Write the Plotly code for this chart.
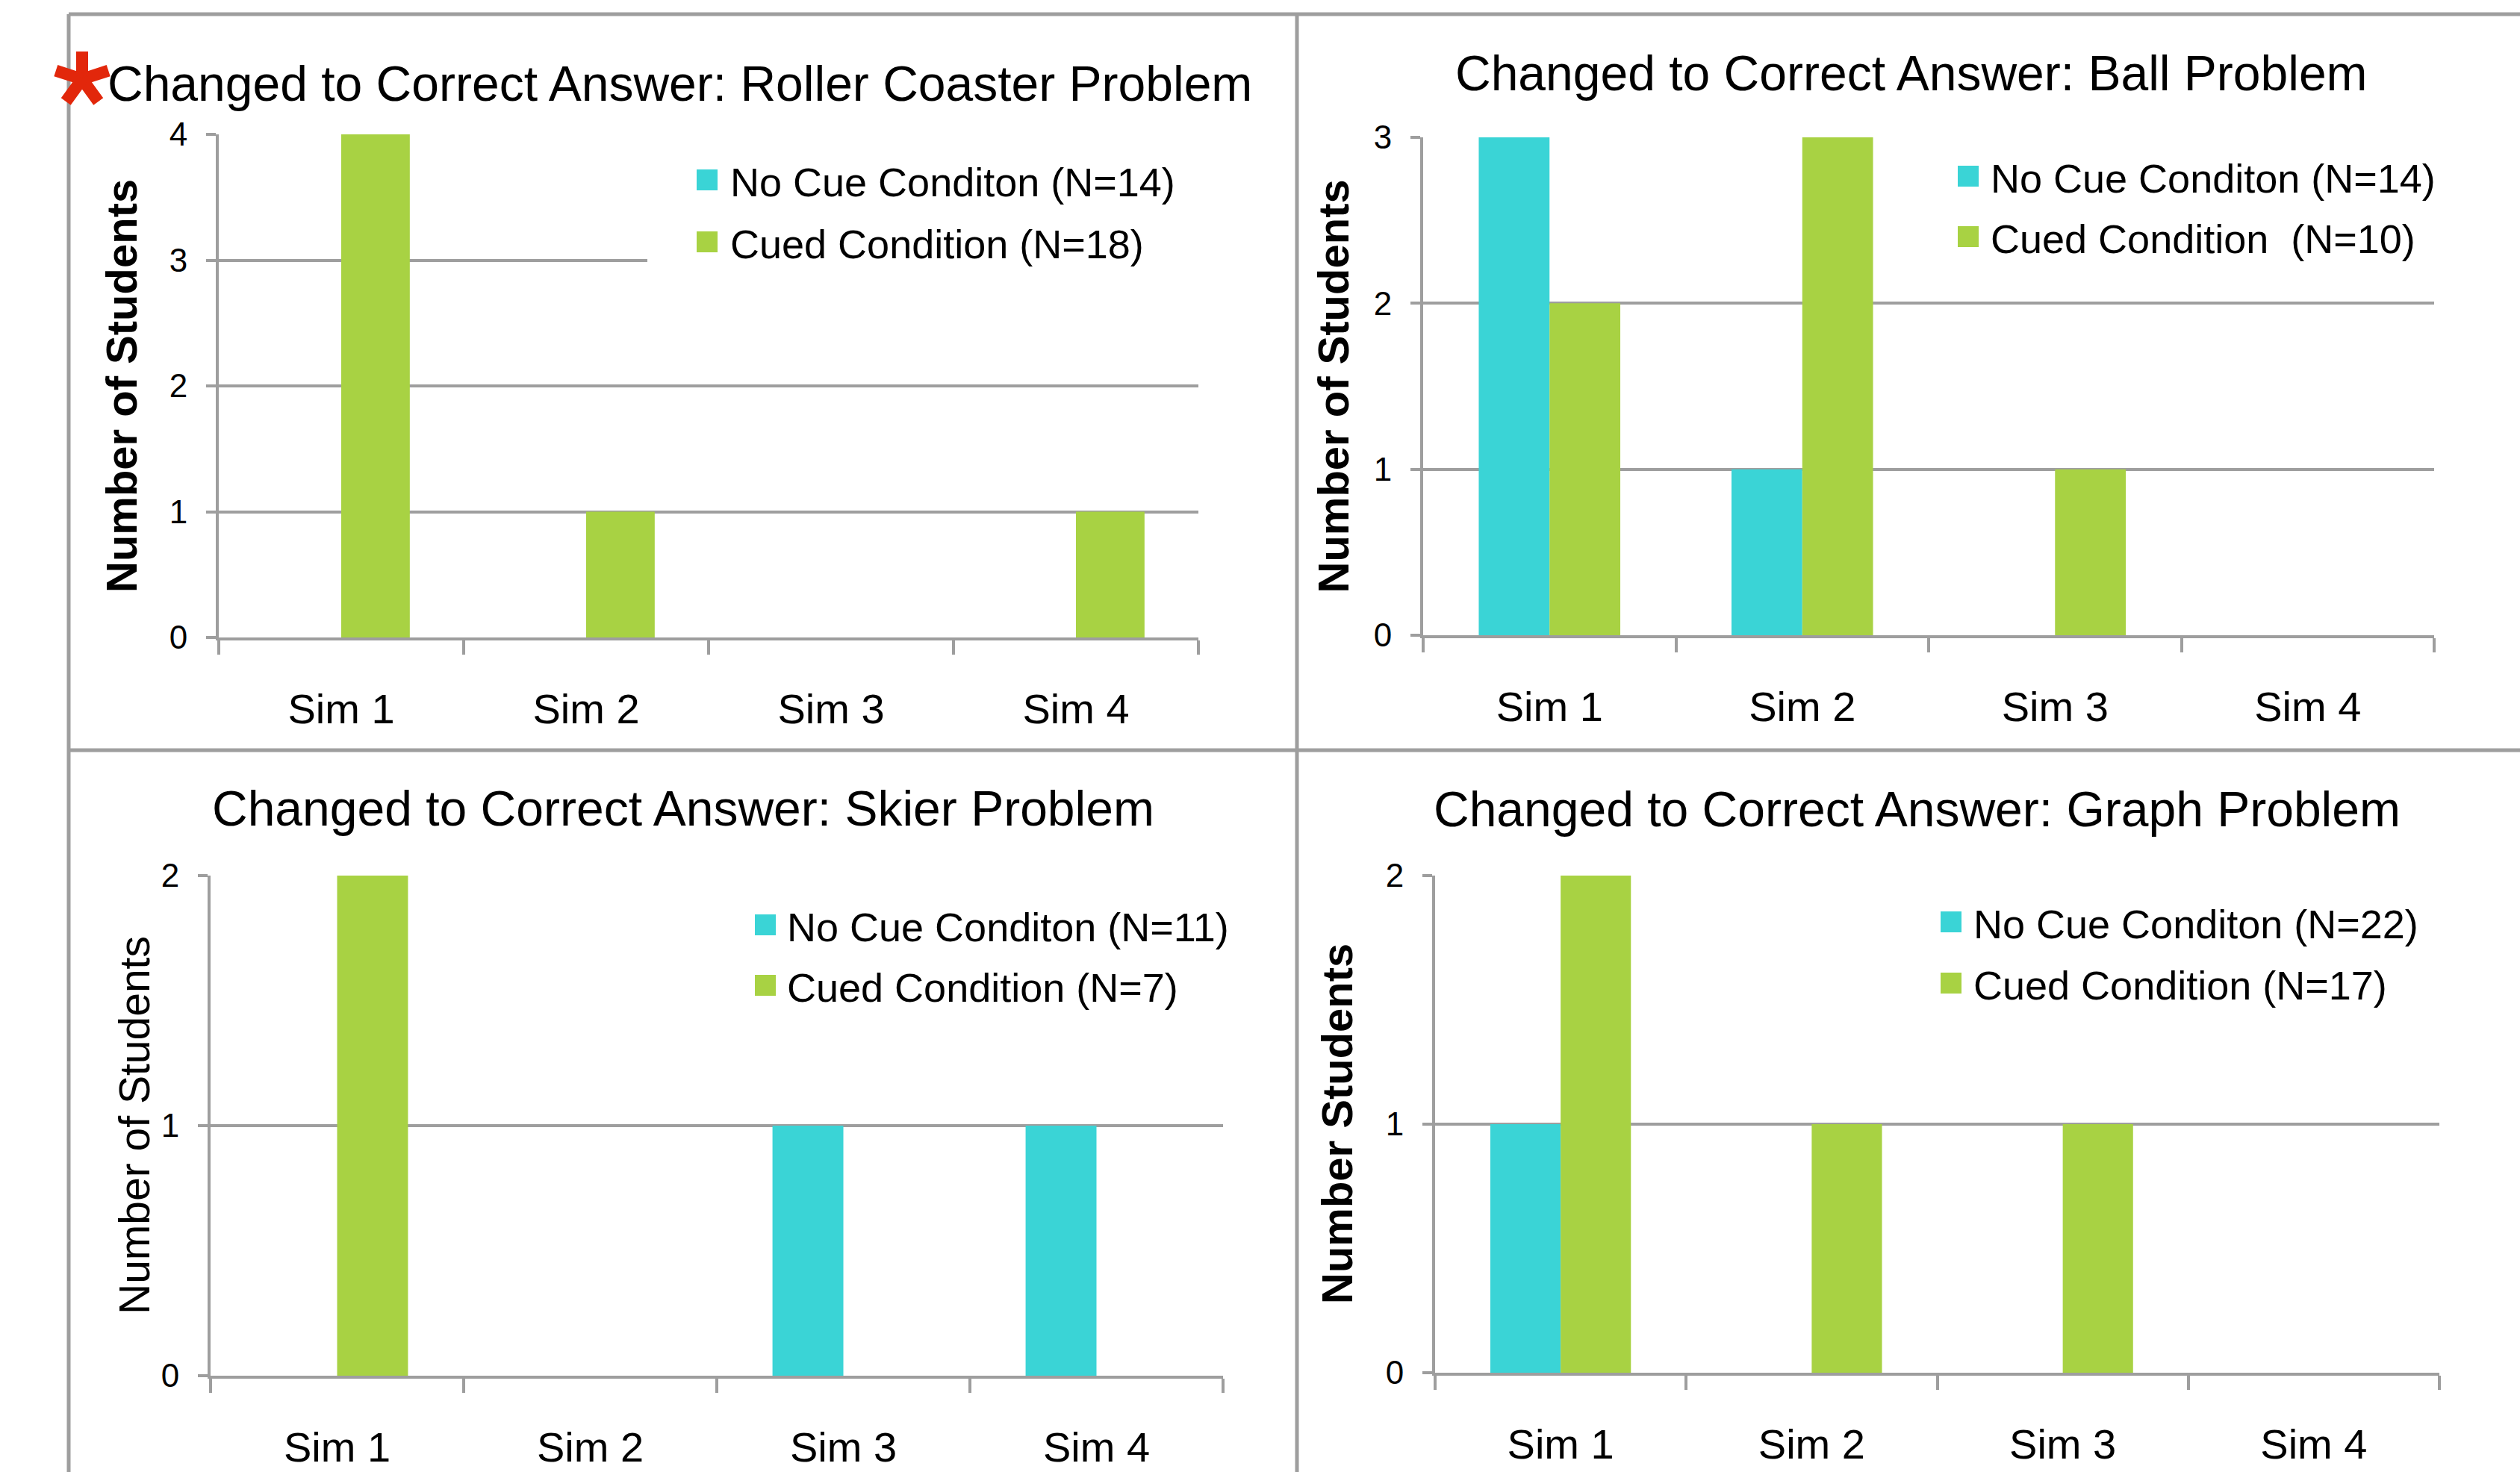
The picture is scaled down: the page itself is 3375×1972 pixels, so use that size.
import math
import plotly.graph_objects as go

# Canvas size in pixels
W, H = 3375, 1972

# ---- data -----------------------------------------------------------------
categories = ["Sim 1", "Sim 2", "Sim 3", "Sim 4"]

roller_no_cue = [0, 0, 0, 0]
roller_cued = [4, 1, 0, 1]

ball_no_cue = [3, 1, 0, 0]
ball_cued = [2, 3, 1, 0]

skier_no_cue = [0, 0, 1, 1]
skier_cued = [2, 0, 0, 0]

graph_no_cue = [1, 0, 0, 0]
graph_cued = [2, 1, 1, 0]

panel_titles = [
    "Changed to Correct Answer: Roller Coaster Problem",
    "Changed to Correct Answer: Ball Problem",
    "Changed to Correct Answer: Skier Problem",
    "Changed to Correct Answer: Graph Problem",
]
legend_labels = [
    ["No Cue Conditon (N=14)", "Cued Condition (N=18)"],
    ["No Cue Conditon (N=14)", "Cued Condition\u00a0 (N=10)"],
    ["No Cue Conditon (N=11)", "Cued Condition (N=7)"],
    ["No Cue Conditon (N=22)", "Cued Condition (N=17)"],
]
y_titles = ["Number of Students", "Number of Students",
            "Number of Students", "Number Students"]
y_maxima = [4, 3, 2, 2]

series = [
    (roller_no_cue, roller_cued),
    (ball_no_cue, ball_cued),
    (skier_no_cue, skier_cued),
    (graph_no_cue, graph_cued),
]

# ---- styling --------------------------------------------------------------
CYAN = "#3AD4D6"
GREEN = "#A8D243"
GRID = "#9E9E9E"
FONT = "Liberation Sans, Arial, Helvetica, sans-serif"

# Panel geometry in pixels
panels = [
    dict(x0=293, x1=1605, ytop=180, ybot=854,
         title=(911, 112), ytitle=(162, True),
         sq_x=933, text_x=976, rows=(241, 324)),
    dict(x0=1906, x1=3260, ytop=184, ybot=851,
         title=(2560, 98), ytitle=(1785, True),
         sq_x=2622, text_x=2664, rows=(236, 317)),
    dict(x0=282, x1=1638, ytop=1173, ybot=1843,
         title=(915, 1083), ytitle=(180, False),
         sq_x=1011, text_x=1052, rows=(1239, 1320)),
    dict(x0=1922, x1=3267, ytop=1173, ybot=1839,
         title=(2567, 1084), ytitle=(1790, True),
         sq_x=2599, text_x=2641, rows=(1235, 1317)),
]


def px(x):
    return x / W


def py(y):
    return 1 - y / H


fig = go.Figure()
shapes = []
annotations = []

# white legend backing in the first panel hides the grid line under the key
shapes.append(dict(
    type="rect", xref="paper", yref="paper",
    x0=px(867), x1=px(1608), y0=py(372), y1=py(200),
    fillcolor="white", line=dict(width=0), layer="above",
))

for i, (p, (no_cue, cued)) in enumerate(zip(panels, series)):
    n = i + 1
    xa = "x" if n == 1 else f"x{n}"
    ya = "y" if n == 1 else f"y{n}"

    fig.add_trace(go.Bar(x=categories, y=no_cue, name=legend_labels[i][0],
                         marker=dict(color=CYAN, line=dict(width=0)),
                         xaxis=xa, yaxis=ya, showlegend=False))
    fig.add_trace(go.Bar(x=categories, y=cued, name=legend_labels[i][1],
                         marker=dict(color=GREEN, line=dict(width=0)),
                         xaxis=xa, yaxis=ya, showlegend=False))

    xkey = "xaxis" if n == 1 else f"xaxis{n}"
    ykey = "yaxis" if n == 1 else f"yaxis{n}"
    fig.update_layout(**{
        xkey: dict(
            domain=[px(p["x0"]), px(p["x1"])],
            anchor=ya, type="category", automargin=False,
            showline=True, linecolor=GRID, linewidth=4,
            showgrid=False, zeroline=False, tickson="boundaries",
            ticks="outside", ticklen=19, tickwidth=4, tickcolor=GRID,
            ticklabelstandoff=44,
            tickfont=dict(family=FONT, size=56, color="#000"),
            fixedrange=True,
        ),
        ykey: dict(
            domain=[py(p["ybot"]), py(p["ytop"])],
            anchor=xa, range=[0, y_maxima[i]], dtick=1, automargin=False,
            showline=True, linecolor=GRID, linewidth=4,
            showgrid=True, gridcolor=GRID, gridwidth=4,
            zeroline=False,
            ticks="outside", ticklen=13, tickwidth=4, tickcolor=GRID,
            ticklabelstandoff=16,
            tickfont=dict(family=FONT, size=44, color="#000"),
            fixedrange=True,
        ),
    })

    # panel title
    tx, ty = p["title"]
    annotations.append(dict(
        text=panel_titles[i], x=px(tx), y=py(ty), xref="paper", yref="paper",
        xanchor="center", yanchor="middle", showarrow=False,
        font=dict(family=FONT, size=66, color="#000"),
    ))

    # y axis title
    yx, bold = p["ytitle"]
    ytxt = f"<b>{y_titles[i]}</b>" if bold else y_titles[i]
    annotations.append(dict(
        text=ytxt, x=px(yx), y=py((p["ytop"] + p["ybot"]) / 2),
        xref="paper", yref="paper", textangle=-90,
        xanchor="center", yanchor="middle", showarrow=False,
        font=dict(family=FONT, size=58 if bold else 57, color="#000"),
    ))

    # legend entries
    for k, color in enumerate([CYAN, GREEN]):
        cy = p["rows"][k]
        shapes.append(dict(
            type="rect", xref="paper", yref="paper",
            x0=px(p["sq_x"]), x1=px(p["sq_x"] + 28),
            y0=py(cy - 14), y1=py(cy + 14),
            fillcolor=color, line=dict(width=0), layer="above",
        ))
        annotations.append(dict(
            text=legend_labels[i][k], x=px(p["text_x"]), y=py(cy + 3),
            xref="paper", yref="paper", xanchor="left", yanchor="middle",
            showarrow=False,
            font=dict(family=FONT, size=54, color="#000"),
        ))

# panel frame lines
BORDER = dict(color="#9E9E9E", width=5)
for (x0, y0, x1, y1) in [(92, 19, 92, H), (92, 19, W, 19),
                         (1737, 19, 1737, H), (92, 1005, W, 1005)]:
    shapes.append(dict(type="line", xref="paper", yref="paper",
                       x0=px(x0), y0=py(y0), x1=px(x1), y1=py(y1),
                       line=BORDER, layer="above"))

# red five-armed asterisk flagging the first panel
acx, acy, arm = 110, 106, 37
for ang in [90, 18, 162, -54, -126]:
    r = math.radians(ang)
    shapes.append(dict(
        type="line", xref="paper", yref="paper",
        x0=px(acx), y0=py(acy),
        x1=px(acx + arm * math.cos(r)), y1=py(acy - arm * math.sin(r)),
        line=dict(color="#E2270B", width=16), layer="above",
    ))

fig.update_layout(
    template="none",
    width=W, height=H, autosize=False,
    margin=dict(l=0, r=0, t=0, b=0, pad=0),
    paper_bgcolor="white", plot_bgcolor="white",
    barmode="group", bargap=0.44, bargroupgap=0,
    shapes=shapes, annotations=annotations,
    showlegend=False,
    font=dict(family=FONT),
)

fig.write_html("out.html", config={"displayModeBar": False})
